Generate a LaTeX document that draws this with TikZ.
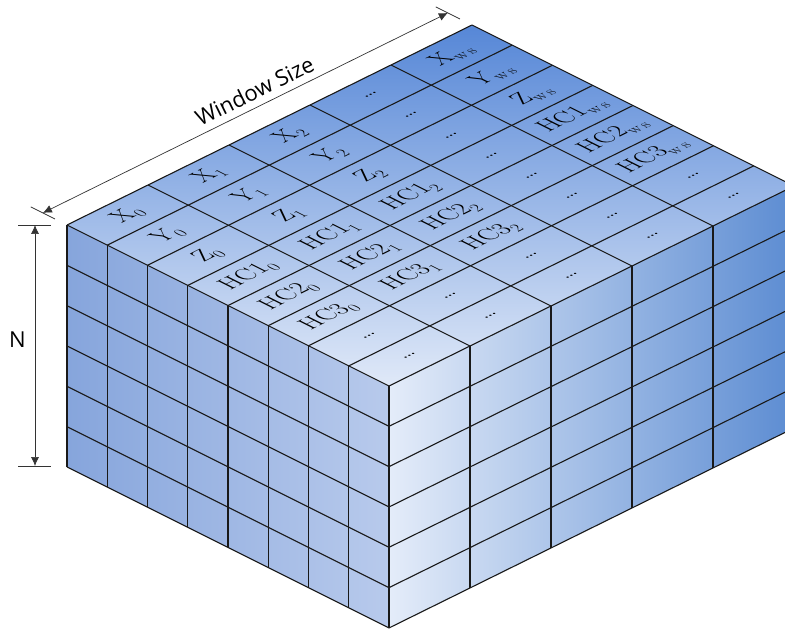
\documentclass[tikz,border=0pt]{standalone}
\usepackage{fontspec}
\usetikzlibrary{arrows.meta}
\newfontfamily\dimfont{Open Sans}
\newcommand\lsub[1]{\raisebox{-0.2em}{\fontsize{17}{20}\selectfont #1}}
\definecolor{topback}{RGB}{86,135,215}
\definecolor{topfront}{RGB}{224,233,248}
\definecolor{leftback}{RGB}{134,165,220}
\definecolor{leftfront}{RGB}{184,202,236}
\definecolor{rightfront}{RGB}{228,236,249}
\definecolor{rightback}{RGB}{92,140,210}
\definecolor{edge}{RGB}{25,25,25}
\begin{document}
\begin{tikzpicture}[x=1pt,y=1pt,>={Latex[length=9pt,width=8pt]},
  grid/.style={draw=edge,line width=1.1pt},
  dim/.style={draw=black!80,line width=0.7pt},
  lbl/.style={inner sep=0pt,font=\fontsize{25}{30}\selectfont,cm={0.894,0.447,-0.894,0.447,(0,0)}},
  dimlbl/.style={font=\dimfont\fontsize{22}{26}\selectfont,inner sep=1pt}]
\useasboundingbox (0,0) rectangle (785,633);
\clip (0,0) rectangle (785,633);
\begin{scope}[shift={(389,247)},x={(81pt,40pt)},y={(-40.25pt,20.125pt)},z={(0pt,-40.33pt)}]
% faces of the block
\shade[top color=topback,bottom color=topfront] (0,0,0) -- (5,0,0) -- (5,8,0) -- (0,8,0) -- cycle;
\shade[left color=leftback,right color=leftfront] (0,0,0) -- (0,8,0) -- (0,8,6) -- (0,0,6) -- cycle;
\shade[left color=rightfront,right color=rightback] (0,0,0) -- (5,0,0) -- (5,0,6) -- (0,0,6) -- cycle;
% cell lines
\foreach \i in {0,...,5} {\draw[grid] (\i,0,0) -- (\i,8,0); \draw[grid] (\i,0,0) -- (\i,0,6);}
\foreach \j in {0,...,8} {\draw[grid] (0,\j,0) -- (5,\j,0); \draw[grid] (0,\j,0) -- (0,\j,6);}
\foreach \k in {1,...,6} \draw[grid] (0,8,\k) -- (0,0,\k) -- (5,0,\k);
% cell labels on top
\foreach \r/\row in {0/X,1/Y,2/Z,3/HC1,4/HC2,5/HC3} {
  \foreach \c/\sub in {0/0,1/1,2/2,4/{w\,s}}
    \node[lbl] (\row-\c) at (\c+0.5,7.5-\r,0) {\row\lsub{\sub}};
  \node[lbl] (\row-3) at (3.5,7.5-\r,0) {\dots};}
\foreach \r in {6,7} \foreach \c in {0,...,4}
  \node[lbl] (dots-\r-\c) at (\c+0.5,7.5-\r,0) {\dots};
% window size
\coordinate (ws-a) at (0,8.6,0); \coordinate (ws-b) at (5,8.6,0);
\draw[dim] (0,8.3,0) -- (0,8.9,0); \draw[dim] (5,8.3,0) -- (5,8.9,0);
\draw[dim,<->] (ws-a) -- node[dimlbl,sloped,above=6pt,pos=0.54] (wslabel) {Window Size} (ws-b);
\end{scope}
% N
\coordinate (n-a) at (35,408); \coordinate (n-b) at (35,167);
\draw[dim] (18,408) -- (51,408); \draw[dim] (18,167) -- (51,167);
\draw[dim,<->] (n-a) -- node[dimlbl,pos=0.475,left=8pt] (nlabel) {N} (n-b);
\end{tikzpicture}
\end{document}
